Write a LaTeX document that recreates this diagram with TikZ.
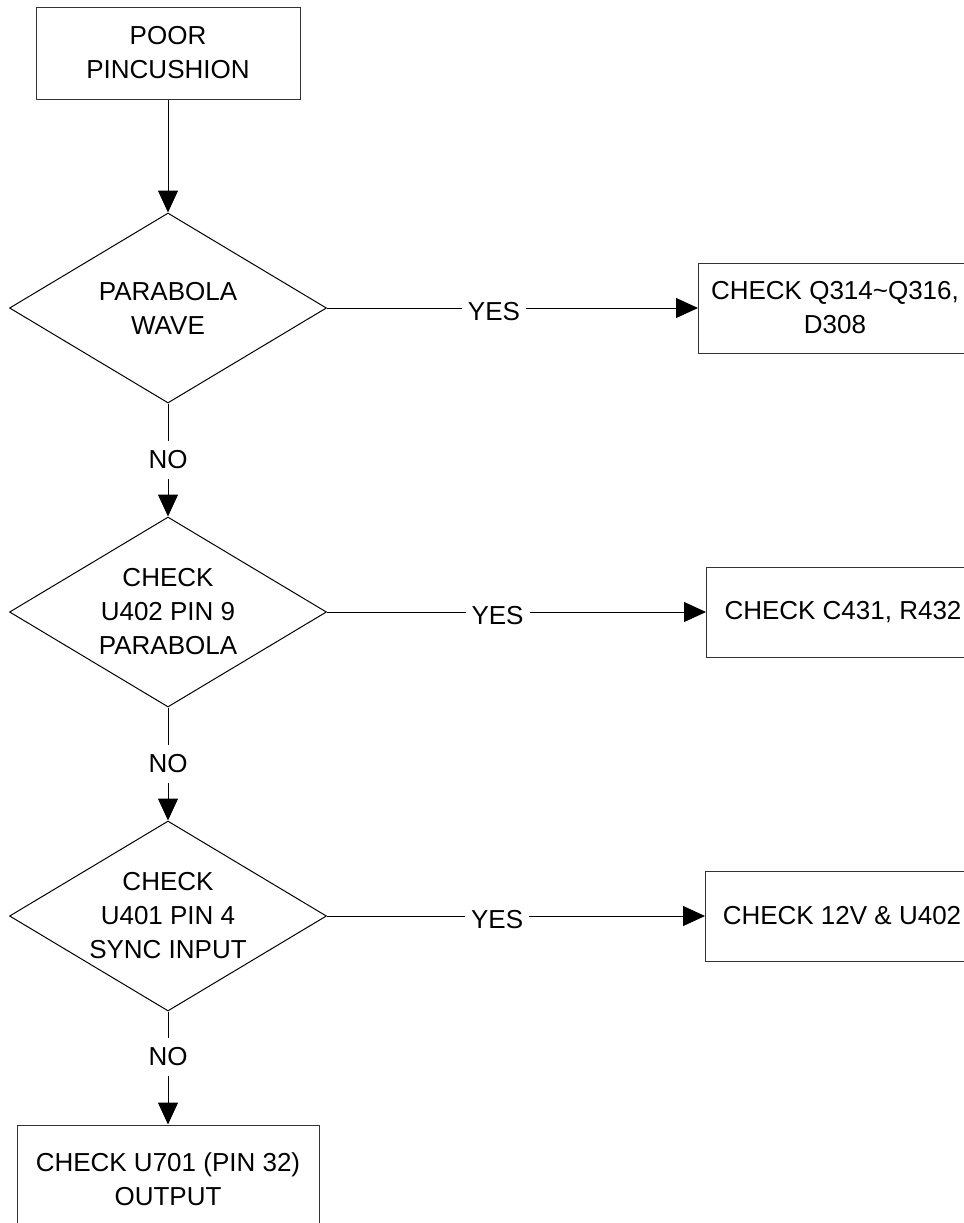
\documentclass[tikz,border=0pt]{standalone}
\usepackage{fontspec}
\setmainfont{Liberation Sans}
\usetikzlibrary{arrows.meta,positioning,shapes.geometric}
\tikzset{
	box/.style={draw=black!80, line width=0.5pt, align=center, inner sep=0pt},
	decision/.style={draw, diamond, aspect=1.67, line width=0.5pt, align=center, inner sep=0pt, minimum width=158.5pt, minimum height=95pt},
	arrow/.style={-{Triangle[length=11pt, width=10pt]}, line width=0.5pt},
	answer/.style={fill=white, inner xsep=3pt, inner ysep=5pt}
}

\begin{document}
\begin{tikzpicture}[
	x=0.5pt, y=-0.5pt,
	node distance=56.5pt and 185.5pt,
	font=\fontsize{13pt}{17pt}\selectfont,
	fixbox/.style={box, minimum width=136.5pt, minimum height=45pt},
	yes/.style={answer, pos=0.45, yshift=-2pt}
	]
	\useasboundingbox (0,0) rectangle (964,1223);
	
	\node[box, minimum width=132pt, minimum height=46pt] (start) at (168,53) {POOR\\PINCUSHION};
	\node[decision, below=of start] (wave) {PARABOLA\\WAVE};
	\node[decision, below=of wave] (pin9) {CHECK\\U402 PIN 9\\PARABOLA};
	\node[decision, below=of pin9] (sync) {CHECK\\U401 PIN 4\\SYNC INPUT};
	\node[box, below=of sync, minimum width=151pt, minimum height=54pt] (u701) {CHECK U701 (PIN 32)\\OUTPUT};
	
	\node[fixbox, right=of wave] (fixq) {CHECK Q314\textasciitilde Q316,\\D308};
	\node[fixbox, right=189.5pt of pin9] (fixc) {CHECK C431, R432};
	\node[fixbox, right=189pt of sync] (fixv) {CHECK 12V \& U402};
	
	\draw[arrow] (start) -- (wave);
	\draw[arrow] (wave) -- node[yes]{YES} (fixq);
	\draw[arrow] (wave) -- node[answer]{NO} (pin9);
	\draw[arrow] (pin9) -- node[yes]{YES} (fixc);
	\draw[arrow] (pin9) -- node[answer]{NO} (sync);
	\draw[arrow] (sync) -- node[yes]{YES} (fixv);
	\draw[arrow] (sync) -- node[answer, pos=0.4]{NO} (u701);
\end{tikzpicture}
\end{document}
